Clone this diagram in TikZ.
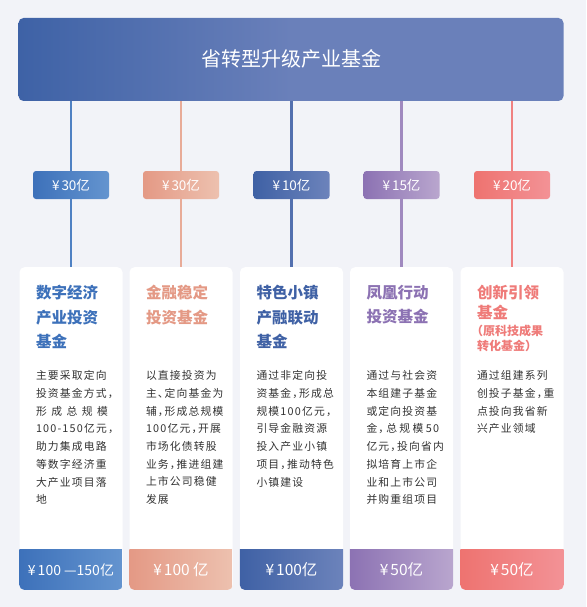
\documentclass[tikz,border=0pt]{standalone}
\usepackage{fontspec}
\setmainfont{Noto Sans CJK SC}[RawFeature=+halt]
\newfontfamily\bodyfont{Noto Sans CJK SC}[RawFeature=+halt, LetterSpace=11]
\usetikzlibrary{positioning}

\definecolor{pagebg}{HTML}{F2F3F8}
\definecolor{topL}{HTML}{3E62A6}
\definecolor{topR}{HTML}{6A80BA}
\definecolor{digL}{HTML}{3D71BA}
\definecolor{digR}{HTML}{6494CF}
\definecolor{finL}{HTML}{E49985}
\definecolor{finR}{HTML}{EDC1AF}
\definecolor{townL}{HTML}{3F61A5}
\definecolor{townR}{HTML}{6C83BB}
\definecolor{phxL}{HTML}{8C72B3}
\definecolor{phxR}{HTML}{B9A6CE}
\definecolor{innL}{HTML}{EE7370}
\definecolor{innR}{HTML}{F39296}
\definecolor{bodytext}{HTML}{333333}

\newcommand{\jline}[1]{\makebox[72pt][s]{#1}}
\newcommand{\yen}{¥\hspace{2pt}}

\tikzset{
  topbar/.style={minimum width=545pt, minimum height=83pt, rounded corners=5pt,
    left color=topL, right color=topR, middle color=topR,
    text=white, font=\fontsize{20}{20}\selectfont},
  card/.style={anchor=north, fill=white, rounded corners=5pt,
    minimum width=103pt, minimum height=322.5pt, inner sep=0pt},
  badge/.style={minimum width=76pt, minimum height=28pt, rounded corners=3pt,
    inner sep=0pt, text=white, font=\fontsize{13.5}{13.5}\selectfont},
  lead/.style={line width=2.6pt},
  amount/.style={text=white, font=\fontsize{15.5}{15.5}\selectfont},
  title/.style={anchor=north west, align=left, inner sep=0pt,
    font=\bfseries\fontsize{15.5}{24.5}\selectfont},
  subtitle/.style={anchor=north west, align=left, inner sep=0pt,
    font=\bfseries\fontsize{12}{15}\selectfont},
  body/.style={anchor=north west, align=left, inner sep=0pt, text=bodytext,
    font=\bodyfont\fontsize{10.8}{17.7}\selectfont}
}

\begin{document}
\begin{tikzpicture}[x=1pt,y=-1pt]
  \fill[pagebg] (0,0) rectangle (586,607);

  \node[topbar] (top) at (291,59.5) {\raisebox{2pt}{省转型升级产业基金}};

  % five funds: card, amount band, lead line, badge
  \foreach \i/\x/\colL/\colR/\bt/\amt in {
      1/71/digL/digR/\yen 30亿/{{\fontsize{14}{14}\selectfont \yen 100 —150亿}},
      2/181/finL/finR/\yen 30亿/\yen 100 亿,
      3/291.5/townL/townR/\yen 10亿/\yen 100亿,
      4/401.5/phxL/phxR/\yen 15亿/\yen 50亿,
      5/512/innL/innR/\yen 20亿/\yen 50亿}{
    \node[card] (c\i) at (\x,267) {};
    \begin{scope}
      \clip[rounded corners=5pt] (c\i.north west) rectangle (c\i.south east);
      \shade[left color=\colL, right color=\colR] ([yshift=40pt]c\i.south west) rectangle (c\i.south east);
      \node[amount] (v\i) at ([yshift=20pt]c\i.south) {\amt};
    \end{scope}
    \draw[lead, \colL!55!\colR] (top.south -| c\i.north) -- (c\i.north);
    \node[badge, left color=\colL, right color=\colR] (b\i) at (\x,185) {\bt};
  }

  % titles
  \node[title, text=digL] (t1) at ([xshift=16.5pt,yshift=-18pt]c1.north west) {数字经济\\产业投资\\基金};
  \node[title, text=finL] (t2) at ([xshift=16.5pt,yshift=-18pt]c2.north west) {金融稳定\\投资基金};
  \node[title, text=townL] (t3) at ([xshift=16.5pt,yshift=-18pt]c3.north west) {特色小镇\\产融联动\\基金};
  \node[title, text=phxL] (t4) at ([xshift=16.5pt,yshift=-18pt]c4.north west) {凤凰行动\\投资基金};
  \node[title, text=innL!75!innR, font=\bfseries\fontsize{15.5}{20}\selectfont] (t5) at ([xshift=16.5pt,yshift=-18pt]c5.north west) {创新引领\\基金};
  \node[subtitle, text=innL!75!innR] (s5) at ([yshift=-5pt]t5.south west) {（原科技成果\\转化基金）};

  % descriptions
  \node[body] (d1) at ([xshift=16.5pt,yshift=-103.5pt]c1.north west) {主要采取定向\\投资基金方式，\\\jline{形 成 总 规 模}\\100-150亿元，\\助力集成电路\\等数字经济重\\大产业项目落\\地};
  \node[body] (d2) at ([xshift=16.5pt,yshift=-103.5pt]c2.north west) {以直接投资为\\主、定向基金为\\辅，形成总规模\\100亿元，开展\\市场化债转股\\业务，推进组建\\上市公司稳健\\发展};
  \node[body] (d3) at ([xshift=16.5pt,yshift=-103.5pt]c3.north west) {通过非定向投\\资基金，形成总\\规模100亿元，\\引导金融资源\\投入产业小镇\\项目，推动特色\\小镇建设};
  \node[body] (d4) at ([xshift=16.5pt,yshift=-103.5pt]c4.north west) {通过与社会资\\本组建子基金\\或定向投资基\\\jline{金， 总 规 模 50}\\亿元，投向省内\\拟培育上市企\\业和上市公司\\并购重组项目};
  \node[body] (d5) at ([xshift=16.5pt,yshift=-103.5pt]c5.north west) {通过组建系列\\创投子基金，重\\点投向我省新\\兴产业领域};
\end{tikzpicture}
\end{document}
